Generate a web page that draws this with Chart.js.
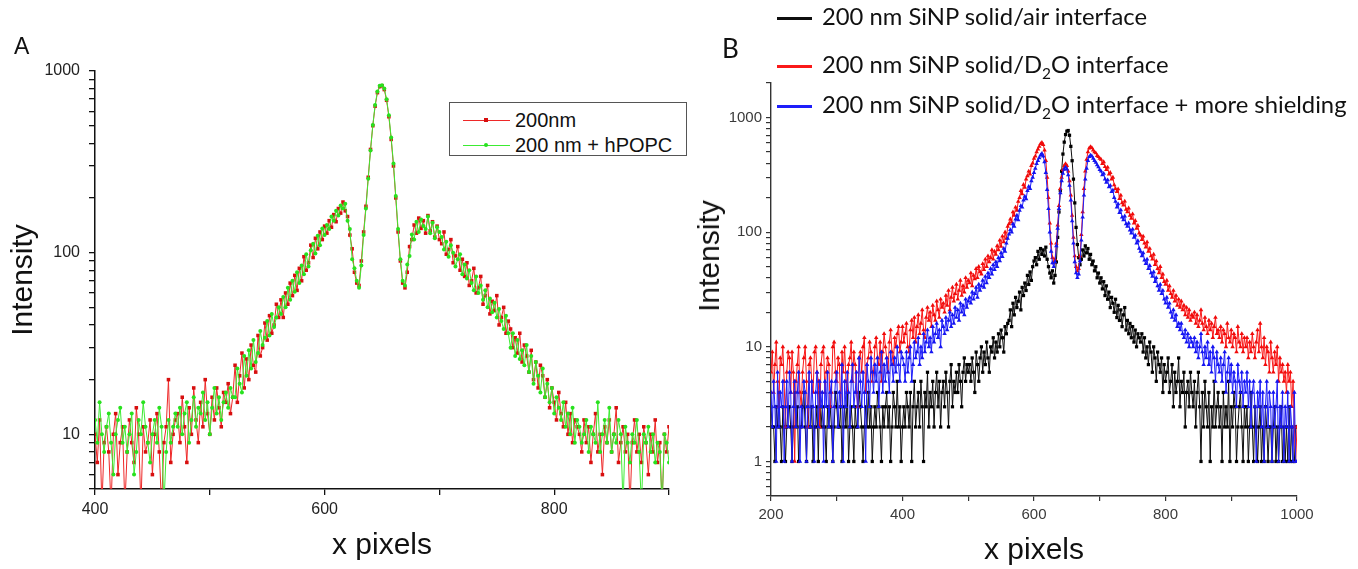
<!DOCTYPE html>
<html><head><meta charset="utf-8">
<script src="https://cdn.jsdelivr.net/npm/chart.js@4.4.1/dist/chart.umd.min.js"></script>
<style>
html,body{margin:0;padding:0;background:#fff;}
body{width:1358px;height:569px;position:relative;overflow:hidden;}
#wrapA{position:absolute;left:0;top:0;width:700px;height:569px;}
#wrapB{position:absolute;left:670px;top:0;width:688px;height:569px;}
.lbl{position:absolute;white-space:nowrap;}
#panelA{left:14px;top:35px;font:23px/23px "Liberation Sans",Arial,sans-serif;color:#111;}
#panelB{left:722px;top:35px;font:26px/26px Lato,sans-serif;color:#111;}
#legA{position:absolute;left:449px;top:102px;width:236px;height:52px;border:1px solid #555;background:#fff;}
.rowA{position:absolute;left:0;height:20px;width:236px;}
.rowA .ln{position:absolute;left:13px;width:47px;height:1px;top:10px;}
.rowA .mk{position:absolute;left:34px;top:8px;width:4px;height:4px;}
.rowA .tx{position:absolute;left:65px;top:0;font:20px/20px "Liberation Sans",Arial,sans-serif;color:#111;}
.rowB{position:absolute;left:777px;height:30px;}
.rowB .ln{position:absolute;left:0;width:35px;height:3px;}
.rowB .tx{position:absolute;left:45px;font-family:Lato,sans-serif;color:#111;white-space:nowrap;}
#ytitleB{left:709px;top:256px;transform:translate(-50%,-50%) rotate(-90deg);font:30px/30px "Liberation Sans",Arial,sans-serif;color:#111;}
</style></head>
<body>
<div id="wrapA"><canvas id="cA" width="700" height="569" style="width:700px;height:569px"></canvas></div>
<div id="wrapB"><canvas id="cB" width="688" height="569" style="width:688px;height:569px"></canvas></div>
<div class="lbl" id="panelA">A</div>
<div class="lbl" id="panelB">B</div>
<div id="legA"></div>
<div id="legB"></div>
<div class="lbl" id="ytitleB">Intensity</div>
<script>
// ---------- Panel A data ----------
const xA = [400,402,404,406,408,410,412,414,416,418,420,422,424,426,428,430,432,434,436,438,440,442,444,446,448,450,452,454,456,458,460,462,464,466,468,470,472,474,476,478,480,482,484,486,488,490,492,494,496,498,500,502,504,506,508,510,512,514,516,518,520,522,524,526,528,530,532,534,536,538,540,542,544,546,548,550,552,554,556,558,560,562,564,566,568,570,572,574,576,578,580,582,584,586,588,590,592,594,596,598,600,602,604,606,608,610,612,614,616,618,620,622,624,626,628,630,632,634,636,638,640,642,644,646,648,650,652,654,656,658,660,662,664,666,668,670,672,674,676,678,680,682,684,686,688,690,692,694,696,698,700,702,704,706,708,710,712,714,716,718,720,722,724,726,728,730,732,734,736,738,740,742,744,746,748,750,752,754,756,758,760,762,764,766,768,770,772,774,776,778,780,782,784,786,788,790,792,794,796,798,800,802,804,806,808,810,812,814,816,818,820,822,824,826,828,830,832,834,836,838,840,842,844,846,848,850,852,854,856,858,860,862,864,866,868,870,872,874,876,878,880,882,884,886,888,890,892,894,896,898,900];
const redA = [10,7,12,4,9,11,8,4,10,13,6,9,11,4,8,12,9,7,14,10,4,11,8,9,12,6,10,13,8,4,9,11,20,7,10,12,
13,9,16,11,7,14,10,18,12,9,15,11,20,13,10,16,12,18,14,11,17,15,19,13,16,
24,15,21,28,18,26,20,31,24,22,35,27,30,41,33,45,36,40,52,44,
55,44,60,52,68,58,75,62,82,70,95,80,88,110,94,120,105,130,118,140,
128,150,138,162,148,175,165,190,170,158,125,105,78,
68,66,90,130,180,260,370,500,640,760,820,830,790,690,560,420,300,200,130,90,68,64,78,108,118,142,128,155,136,150,128,160,132,148,122,140,118,
112,130,98,104,118,88,96,108,80,92,74,88,66,70,82,60,64,74,52,58,66,46,54,48,58,40,44,50,36,42,
38,30,34,28,36,25,31,27,22,29,20,25,18,24,21,16,20,14,18,15,12,17,13,11,15,10,13,9,12,11,
10,8,12,9,11,7,10,13,8,10,6,11,9,12,8,10,14,7,9,11,8,10,4,9,12,8,10,7,11,9,6,10,8,12,7,9,4,10,8,11];
const greenA = [12,9,15,10,8,11,13,9,6,10,12,14,9,11,8,10,13,6,8,12,10,15,11,9,7,10,12,9,14,11,4,8,12,9,11,13,
11,14,10,13,15,9,12,16,11,14,13,17,12,15,10,14,18,13,16,12,15,17,14,18,16,
16,23,19,17,27,21,29,23,33,25,28,37,31,34,42,35,46,39,44,50,
46,57,50,64,55,70,61,78,68,85,76,98,84,103,112,99,124,110,136,125,
142,135,158,150,170,160,182,175,186,150,135,92,82,
70,64,85,125,175,255,365,505,650,770,830,835,800,700,570,430,310,205,135,92,70,66,86,96,126,118,148,130,152,140,135,158,128,146,120,138,130,
122,104,115,95,110,100,84,92,98,76,86,72,80,68,62,74,60,66,55,62,50,56,47,53,44,49,42,38,45,36,
30,36,27,33,26,29,24,31,22,27,19,25,21,17,23,16,19,15,18,13,16,14,12,15,11,13,10,14,9,12,
11,9,10,12,8,11,10,9,15,8,10,12,9,14,8,10,9,12,10,4,11,9,7,10,9,12,8,4,10,9,11,8,10,7,9,8,4,10,9,7];
const namesA = ['200nm', '200 nm + hPOPC'];
const tickLabelsAX = [400, 600, 800];
const tickLabelsAY = [10, 100, 1000];

// ---------- Panel B data ----------
const xB = [200,202,204,206,208,210,212,214,216,218,220,222,224,226,228,230,232,234,236,238,240,242,244,246,248,250,252,254,256,258,260,262,264,266,268,270,272,274,276,278,280,282,284,286,288,290,292,294,296,298,
300,302,304,306,308,310,312,314,316,318,320,322,324,326,328,330,332,334,336,338,340,342,344,346,348,350,352,354,356,358,360,362,364,366,368,370,372,374,376,378,380,382,384,386,388,390,392,394,396,398,
400,402,404,406,408,410,412,414,416,418,420,422,424,426,428,430,432,434,436,438,440,442,444,446,448,450,452,454,456,458,460,462,464,466,468,470,472,474,476,478,480,482,484,486,488,490,492,494,496,498,
500,502,504,506,508,510,512,514,516,518,520,522,524,526,528,530,532,534,536,538,540,542,544,546,548,550,552,554,556,558,560,562,564,566,568,570,572,574,576,578,580,582,584,586,588,590,592,594,596,598,
600,602,604,606,608,610,612,614,616,618,620,622,624,626,628,630,632,634,636,638,640,642,644,646,648,650,652,654,656,658,660,662,664,666,668,670,672,674,676,678,680,682,684,686,688,690,692,694,696,698,
700,702,704,706,708,710,712,714,716,718,720,722,724,726,728,730,732,734,736,738,740,742,744,746,748,750,752,754,756,758,760,762,764,766,768,770,772,774,776,778,780,782,784,786,788,790,792,794,796,798,
800,802,804,806,808,810,812,814,816,818,820,822,824,826,828,830,832,834,836,838,840,842,844,846,848,850,852,854,856,858,860,862,864,866,868,870,872,874,876,878,880,882,884,886,888,890,892,894,896,898,
900,902,904,906,908,910,912,914,916,918,920,922,924,926,928,930,932,934,936,938,940,942,944,946,948,950,952,954,956,958,960,962,964,966,968,970,972,974,976,978,980,982,984,986,988,990,992,994,996,998,
1000];
const blackB = [3,2,2,1,3,2,4,2,1,3,2,1,2,3,3,2,1,2,4,2,3,1,2,2,3,4,2,1,3,2,2,3,1,2,2,3,1,4,2,3,2,2,1,3,2,3,2,1,2,4,3,2,2,3,1,2,3,2,4,1,2,3,2,1,3,2,2,4,3,2,1,2,3,2,4,2,3,1,2,3,2,4,3,2,1,3,2,3,4,2,3,1,2,4,3,2,5,2,3,1,2,
3,2,4,3,2,4,1,3,5,2,3,4,2,5,3,1,4,3,6,2,4,3,5,2,4,6,3,5,2,4,5,3,6,4,2,5,7,3,5,4,6,4,7,5,3,6,8,5,7,6,
7,5,8,6,4,9,7,5,8,10,6,9,7,11,8,6,10,9,12,8,11,9,13,10,14,12,9,15,13,16,
17,21,15,24,19,27,22,25,30,21,33,28,36,31,42,35,45,38,50,56,
60,52,68,58,72,64,70,62,74,58,50,44,40,46,36,42,55,90,150,230,340,480,610,710,760,770,700,560,420,290,180,110,78,60,52,58,70,62,76,66,72,58,64,52,56,46,50,40,44,36,
40,32,37,28,34,26,30,22,27,24,20,26,18,23,17,21,15,19,22,14,17,13,16,12,15,11,14,10,13,12,
11,13,9,12,8,10,7,11,9,6,10,8,5,9,7,6,8,4,7,5,6,8,4,5,7,3,6,4,5,8,3,5,4,6,2,4,5,3,6,4,
3,5,2,4,6,3,1,4,2,5,3,2,4,1,3,2,5,2,3,4,2,3,1,4,2,3,2,5,1,3,2,4,3,1,2,3,4,2,1,3,
2,3,1,2,4,2,1,3,2,1,2,3,1,2,1,3,2,1,2,2,1,2,3,1,2,1,2,3,1,2,1,2,1,3,1,2,1,1,2,2];
const redB = [6,9,4,7,11,5,3,8,7,10,5,2,6,9,8,4,9,6,1,5,7,10,4,3,6,8,10,5,2,7,8,5,4,9,10,6,5,2,7,9,10,4,6,8,7,3,4,10,11,6,5,8,7,3,9,6,10,5,4,7,8,11,5,9,7,4,3,8,9,6,10,12,4,7,8,11,9,5,6,10,12,8,7,11,5,9,13,10,8,6,11,14,9,7,12,10,13,15,9,11,15,
11,13,16,10,9,14,17,12,18,11,15,19,13,16,21,14,12,18,22,17,20,15,23,19,17,25,21,18,26,22,24,20,28,23,31,21,27,33,25,29,35,26,31,38,28,34,30,40,33,38,
36,44,34,42,39,48,40,50,45,43,53,47,58,50,62,55,60,70,58,68,64,76,70,85,75,92,82,100,88,112,
118,130,122,150,140,165,155,185,200,230,215,260,245,290,310,340,320,380,400,440,
460,500,530,560,590,605,580,520,420,300,200,120,80,60,54,58,80,115,170,240,300,350,380,395,380,340,280,210,140,90,62,50,46,48,62,95,150,240,340,430,500,540,555,545,520,500,490,465,455,440,
430,395,410,372,350,368,320,330,290,300,258,240,225,238,196,210,180,172,186,158,150,162,140,132,144,120,126,108,114,98,
94,86,92,80,74,82,68,72,62,58,64,52,56,48,44,50,40,43,37,35,38,31,34,29,27,31,25,28,23,26,22,25,21,23,19,22,18,21,17,19,
18,20,16,19,15,17,21,16,14,18,15,13,17,14,16,12,15,18,13,14,12,15,11,14,13,10,16,12,11,14,10,13,12,9,15,11,10,13,9,12,
10,12,8,11,9,13,10,8,11,14,9,16,10,8,12,7,10,9,6,11,8,6,9,7,10,5,8,6,7,5,6,4,7,5,6,3,5,2,1,2];
const blueB = [4,2,5,3,1,6,2,4,3,5,1,3,5,2,6,4,1,3,5,2,4,6,1,3,2,5,4,1,3,6,2,5,3,1,4,6,2,5,3,4,1,5,3,6,2,4,5,1,3,5,6,2,4,3,7,1,5,3,6,4,2,5,7,3,4,6,2,8,5,3,6,4,1,7,5,3,8,6,4,7,5,8,3,6,9,4,7,5,8,6,4,9,7,5,8,6,10,7,5,9,8,
7,5,9,6,8,10,5,7,11,8,9,12,7,10,8,13,9,11,14,10,12,9,15,11,13,16,12,14,10,17,15,13,18,14,17,20,15,19,16,22,18,21,17,24,20,23,19,26,22,25,
27,24,30,26,29,33,27,35,31,34,38,33,41,36,44,40,48,43,52,47,55,50,60,56,66,61,72,68,80,88,
96,105,100,118,112,130,140,128,155,170,165,190,205,195,230,250,240,280,300,330,
360,395,420,445,470,485,460,410,330,235,160,100,68,54,50,55,76,108,160,220,280,325,355,368,355,315,255,190,125,80,55,44,40,43,56,85,135,210,290,360,420,455,468,460,440,420,405,385,370,350,
340,315,325,290,272,285,248,255,225,232,200,185,165,176,148,156,135,128,138,118,112,120,104,98,106,90,94,80,84,72,
68,62,66,57,53,58,48,51,44,41,45,37,40,34,31,35,29,31,26,24,27,22,24,20,18,21,17,19,15,16,14,16,13,12,14,11,13,10,12,11,
10,12,9,11,8,10,13,9,7,10,8,11,7,9,6,10,8,5,9,7,6,8,5,7,9,4,6,8,5,7,4,6,5,3,7,5,4,6,3,5,
4,6,3,5,2,4,5,3,1,4,3,5,2,4,1,3,5,2,4,3,1,4,2,3,5,1,3,2,4,1,3,2,4,1,3,2,1,4,1,1];
const namesB = ['200 nm SiNP solid/air interface', '200 nm SiNP solid/D2O interface', '200 nm SiNP solid/D2O interface + more shielding'];
const tickLabelsBX = [200, 400, 600, 800, 1000];
const tickLabelsBY = [1, 10, 100, 1000];

// ---------- helpers ----------
[[xA, redA], [xA, greenA], [xB, blackB], [xB, redB], [xB, blueB]].forEach(([a, b], i) => {
  if (a.length !== b.length) throw new Error('length mismatch ' + i + ': ' + a.length + ' vs ' + b.length);
});
function pts(xs, ys) { return xs.map((x, i) => ({x: x, y: ys[i]})); }
function logTicks(min, max) {
  const t = [];
  for (let e = Math.floor(Math.log10(min)) - 1; e <= Math.ceil(Math.log10(max)); e++) {
    for (let m = 1; m <= 9; m++) {
      const v = +(m * Math.pow(10, e)).toPrecision(6);
      if (v >= min - 1e-9 && v <= max + 1e-9) t.push({value: v});
    }
  }
  return t;
}
const fontA = '"Liberation Sans", Arial, sans-serif';

// ---------- Chart A ----------
const colA = [{line: 'rgb(238,40,40)', pt: 'rgb(215,15,15)', style: 'rect', r: 2.5},
              {line: 'rgb(60,235,50)', pt: 'rgb(40,225,30)', style: 'circle', r: 2.0}];
const chartA = new Chart(document.getElementById('cA'), {
  type: 'line',
  data: {datasets: [
    {label: namesA[0], data: pts(xA, redA), borderColor: colA[0].line, backgroundColor: colA[0].pt,
     pointBackgroundColor: colA[0].pt, pointBorderWidth: 0, pointStyle: colA[0].style, pointRadius: colA[0].r,
     borderWidth: 1, tension: 0, order: 1},
    {label: namesA[1], data: pts(xA, greenA), borderColor: colA[1].line, backgroundColor: colA[1].pt,
     pointBackgroundColor: colA[1].pt, pointBorderWidth: 0, pointStyle: colA[1].style, pointRadius: colA[1].r,
     borderWidth: 1, tension: 0, order: 0}
  ]},
  options: {
    responsive: false, animation: false, devicePixelRatio: 1, events: [],
    layout: {padding: {left: 0, right: 31, top: 71, bottom: 0}},
    plugins: {legend: {display: false}, tooltip: {enabled: false}},
    scales: {
      x: {type: 'linear', min: 400, max: 900,
          afterFit: s => { s.height = 80; },
          border: {display: true, color: '#111', width: 1.5},
          grid: {drawOnChartArea: false, drawTicks: true, tickLength: 6, color: '#111', lineWidth: 1.3},
          ticks: {stepSize: 100, autoSkip: false, maxRotation: 0, padding: 5, color: '#222',
                  font: {family: fontA, size: 16},
                  callback: v => tickLabelsAX.includes(v) ? String(v) : ''},
          title: {display: true, text: 'x pixels', color: '#111', font: {family: fontA, size: 30},
                  padding: {top: 0, bottom: 5.5}}},
      y: {type: 'logarithmic', min: 5, max: 1000,
          afterFit: s => { s.width = 95; },
          afterBuildTicks: s => { s.ticks = logTicks(5, 1000); },
          border: {display: true, color: '#111', width: 1.5},
          grid: {drawOnChartArea: false, drawTicks: true, tickLength: 6, color: '#111', lineWidth: 1.3},
          ticks: {autoSkip: false, padding: 9, color: '#222', font: {family: fontA, size: 16},
                  callback: v => tickLabelsAY.includes(v) ? String(v) : ''},
          title: {display: true, text: 'Intensity', color: '#111', font: {family: fontA, size: 30},
                  padding: {top: 6, bottom: 0}}}
    }
  }
});

// Legend A (built from the chart datasets)
(function () {
  const box = document.getElementById('legA');
  chartA.data.datasets.forEach((ds, i) => {
    const row = document.createElement('div');
    row.className = 'rowA';
    row.style.top = (7 + i * 25) + 'px';
    const ln = document.createElement('div'); ln.className = 'ln'; ln.style.background = ds.borderColor;
    const mk = document.createElement('div'); mk.className = 'mk'; mk.style.background = ds.pointBackgroundColor;
    if (colA[i].style === 'circle') mk.style.borderRadius = '50%';
    const tx = document.createElement('div'); tx.className = 'tx'; tx.textContent = ds.label;
    row.appendChild(ln); row.appendChild(mk); row.appendChild(tx);
    box.appendChild(row);
  });
})();

// ---------- Chart B ----------
const colB = [{line: 'rgb(15,15,15)', pt: 'rgb(0,0,0)', style: 'rect', r: 2.3, order: 2},
              {line: 'rgb(250,25,25)', pt: 'rgb(240,10,10)', style: 'triangle', r: 2.6, order: 1},
              {line: 'rgb(30,30,250)', pt: 'rgb(20,20,240)', style: 'triangle', r: 2.6, order: 0}];
const seriesB = [blackB, redB, blueB];
const chartB = new Chart(document.getElementById('cB'), {
  type: 'line',
  data: {datasets: seriesB.map((ys, i) => ({
    label: namesB[i], data: pts(xB, ys), borderColor: colB[i].line, backgroundColor: colB[i].pt,
    pointBackgroundColor: colB[i].pt, pointBorderWidth: 0, pointStyle: colB[i].style, pointRadius: colB[i].r,
    borderWidth: 1, tension: 0, order: colB[i].order}))},
  options: {
    responsive: false, animation: false, devicePixelRatio: 1, events: [],
    layout: {padding: {left: 0, right: 61, top: 83, bottom: 0}},
    plugins: {legend: {display: false}, tooltip: {enabled: false}},
    scales: {
      x: {type: 'linear', min: 200, max: 1000,
          afterFit: s => { s.height = 73; },
          border: {display: true, color: '#333', width: 1.4},
          grid: {drawOnChartArea: false, drawTicks: true, tickLength: 5, color: '#333', lineWidth: 1.2},
          ticks: {stepSize: 100, autoSkip: false, maxRotation: 0, padding: 5, color: '#3a3a3a',
                  font: {family: fontA, size: 15},
                  callback: v => tickLabelsBX.includes(v) ? String(v) : ''},
          title: {display: true, text: 'x pixels', color: '#111', font: {family: fontA, size: 30},
                  padding: {top: 0, bottom: 0}}},
      y: {type: 'logarithmic', min: 0.5, max: 2000,
          afterFit: s => { s.width = 101; },
          afterBuildTicks: s => { s.ticks = logTicks(0.5, 2000); },
          border: {display: true, color: '#333', width: 1.4},
          grid: {drawOnChartArea: false, drawTicks: true, tickLength: 5, color: '#333', lineWidth: 1.2},
          ticks: {autoSkip: false, padding: 4, color: '#3a3a3a', font: {family: fontA, size: 15},
                  callback: v => tickLabelsBY.includes(v) ? String(v) : ''},
          title: {display: false}}
    }
  }
});

// Legend B (built from the chart datasets)
(function () {
  const m = document.createElement('canvas').getContext('2d');
  m.font = '24px Lato';
  const w = m.measureText(namesB[2]).width;
  const fs = Math.max(18, Math.min(28, 24 * 530 / w));
  const centers = [18, 66, 106];
  const holder = document.getElementById('legB');
  chartB.data.datasets.forEach((ds, i) => {
    const row = document.createElement('div');
    row.className = 'rowB';
    row.style.top = (centers[i] - 15) + 'px';
    const ln = document.createElement('div'); ln.className = 'ln'; ln.style.background = ds.borderColor;
    ln.style.top = '14px';
    const tx = document.createElement('div'); tx.className = 'tx';
    tx.style.fontSize = fs.toFixed(2) + 'px';
    tx.style.lineHeight = fs.toFixed(2) + 'px';
    tx.style.top = (14 - fs / 2) + 'px';
    const parts = ds.label.split('D2O');
    parts.forEach((p, k) => {
      tx.appendChild(document.createTextNode(p));
      if (k < parts.length - 1) {
        tx.appendChild(document.createTextNode('D'));
        const sub = document.createElement('sub');
        sub.textContent = '2';
        sub.style.fontSize = '0.65em';
        sub.style.lineHeight = '0';
        tx.appendChild(sub);
        tx.appendChild(document.createTextNode('O'));
      }
    });
    row.appendChild(ln); row.appendChild(tx);
    holder.appendChild(row);
  });
})();
</script>
</body></html>
